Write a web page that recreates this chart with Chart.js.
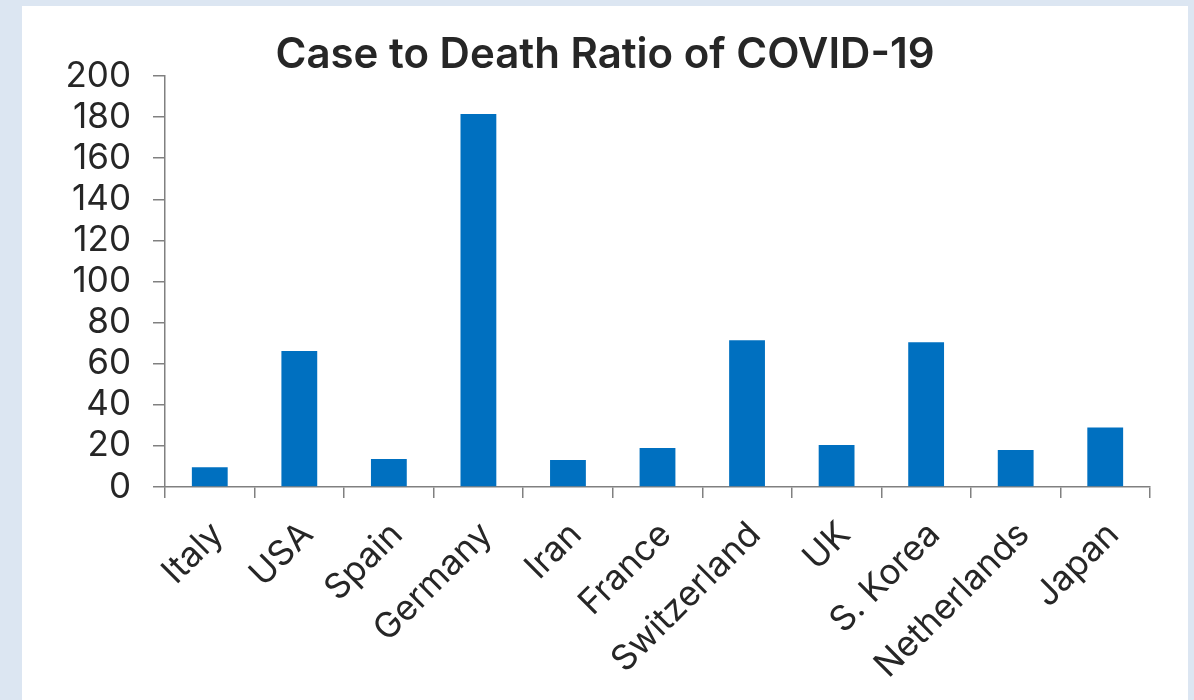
<!DOCTYPE html>
<html>
<head>
<meta charset="utf-8">
<script src="https://cdn.jsdelivr.net/npm/chart.js@4/dist/chart.umd.min.js"></script>
<style>
  html, body { margin: 0; padding: 0; background: #dce6f2; width: 1194px; height: 700px; overflow: hidden; }
  #panel { position: absolute; left: 22px; top: 6px; width: 1166px; height: 694px; background: #ffffff; }
  #c { display: block; }
</style>
</head>
<body>
<div id="panel"><canvas id="c" width="1166" height="694"></canvas></div>
<script>
const categories = ["Italy", "USA", "Spain", "Germany", "Iran", "France", "Switzerland", "UK", "S. Korea", "Netherlands", "Japan"];
const caseToDeathRatio = [9.6, 66.2, 13.6, 181.5, 13.1, 19.0, 71.4, 20.4, 70.4, 18.0, 28.9];
const yTicks = [0, 20, 40, 60, 80, 100, 120, 140, 160, 180, 200];
const titleText = "Case to Death Ratio of COVID-19";

const FONT = "Inter, 'Liberation Sans', sans-serif";
const AXIS_COLOR = "#808080";
const TEXT_COLOR = "#262626";

new Chart(document.getElementById("c"), {
  type: "bar",
  data: {
    labels: categories,
    datasets: [{
      data: caseToDeathRatio,
      backgroundColor: "#0070c0",
      borderWidth: 0,
      barPercentage: 0.4,
      categoryPercentage: 1.0
    }]
  },
  options: {
    responsive: false,
    animation: false,
    events: [],
    layout: { padding: { left: 38, right: 38, top: 0, bottom: 0 } },
    plugins: {
      legend: { display: false },
      tooltip: { enabled: false },
      title: {
        display: true,
        text: titleText,
        color: TEXT_COLOR,
        font: { family: FONT, size: 42, weight: "600", lineHeight: 1.0 },
        padding: { top: 28, bottom: 0 }
      }
    },
    scales: {
      x: {
        offset: true,
        grid: {
          offset: true,
          drawOnChartArea: false,
          drawTicks: true,
          tickLength: 11,
          color: AXIS_COLOR,
          lineWidth: 1.5
        },
        border: { display: true, color: AXIS_COLOR, width: 1.5 },
        ticks: {
          autoSkip: false,
          maxRotation: 45,
          minRotation: 45,
          color: TEXT_COLOR,
          font: { family: FONT, size: 35 },
          padding: 16,
          labelOffset: 8
        },
        afterFit: (scale) => { scale.height = 213; }
      },
      y: {
        min: 0,
        max: 200,
        afterBuildTicks: (scale) => { scale.ticks = yTicks.map(v => ({ value: v })); },
        grid: {
          drawOnChartArea: false,
          drawTicks: true,
          tickLength: 12,
          color: AXIS_COLOR,
          lineWidth: 1.5
        },
        border: { display: true, color: AXIS_COLOR, width: 1.5 },
        ticks: {
          autoSkip: false,
          color: TEXT_COLOR,
          font: { family: FONT, size: 35 },
          padding: 22
        },
        afterFit: (scale) => { scale.width = 105; }
      }
    }
  }
});
</script>
</body>
</html>
